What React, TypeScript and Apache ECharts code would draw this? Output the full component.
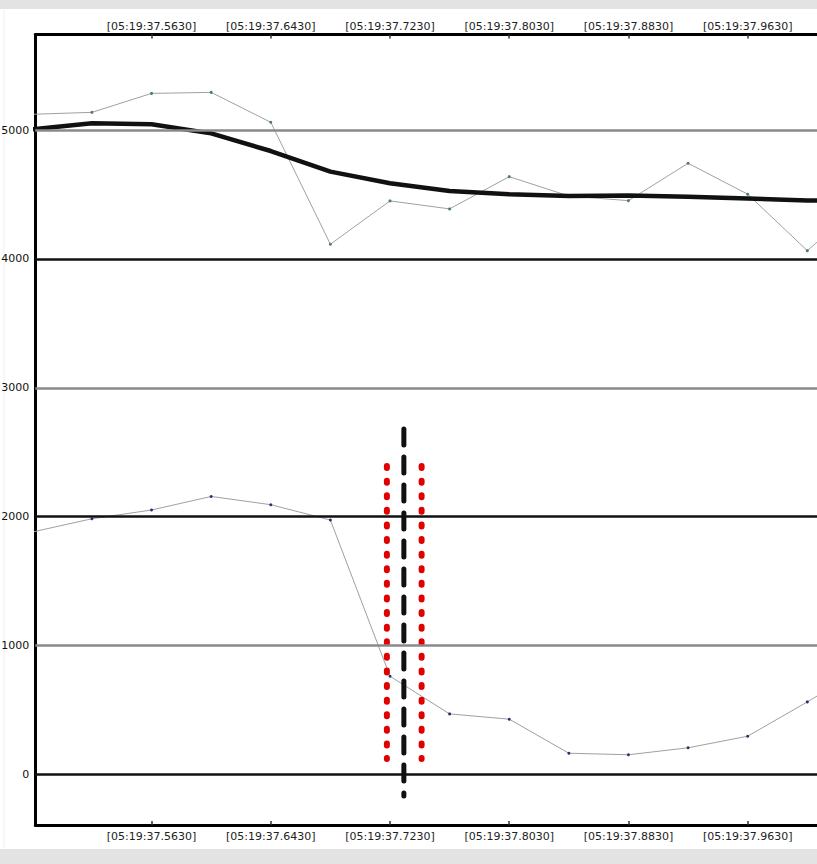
import React, { useEffect, useRef } from "react";
import * as echarts from "echarts";

// time in ms after 05:19:37.000
const times = [483, 523, 563, 603, 643, 683, 723, 763, 803, 843, 883, 923, 963, 1003, 1043];
const rawTop = [5122, 5137, 5284, 5292, 5060, 4114, 4450, 4388, 4638, 4488, 4452, 4742, 4502, 4064, 4465];
const avgTop = [5005, 5052, 5044, 4974, 4837, 4677, 4587, 4527, 4502, 4488, 4491, 4483, 4468, 4453, 4450];
const rawBottom = [1881, 1984, 2052, 2157, 2093, 1974, 762, 470, 429, 165, 153, 207, 297, 563, 840];

const xTickValues = [563, 643, 723, 803, 883, 963];
const yTickValues = [0, 1000, 2000, 3000, 4000, 5000];
const gridValues = [5000, 4000, 3000, 2000, 1000, 0];

const markerTime = 732.3;
const markerRange = [2680, -167];
const bandTimes = [720.9, 744.2];
const bandRange = [2393, 120];

const X_MIN = 485;
const X_MAX = 1009.5;
const Y_MIN = -392;
const Y_MAX = 5741;

const fmt = (v: number) => `[05:19:37.${String(Math.round(v * 10)).padStart(4, "0")}]`;

export default function App() {
  const ref = useRef<HTMLDivElement>(null);
  useEffect(() => {
    document.body.style.margin = "0";
    const chart = echarts.init(ref.current!, undefined, { renderer: "svg" });
    const font = "DejaVu Sans";
    const xAxisBase = (position: "top" | "bottom") => ({
      type: "value" as const,
      position,
      min: X_MIN,
      max: X_MAX,
      axisLine: { show: true, onZero: false, lineStyle: { color: "#000", width: 3 } },
      axisTick: { show: true, inside: true, length: 4, customValues: xTickValues, lineStyle: { color: "#333", width: 1.5 } },
      axisLabel: {
        show: true,
        customValues: xTickValues,
        formatter: fmt,
        fontFamily: font,
        fontSize: 11,
        color: "#222",
        margin: position === "top" ? 3 : 6,
      },
      splitLine: { show: false },
    });
    const pair = (xs: number[], ys: number[]) => xs.map((x, i) => [x, ys[i]]);
    chart.setOption({
      animation: false,
      backgroundColor: "#ffffff",
      graphic: [
        { type: "rect", shape: { x: 0, y: 0, width: 817, height: 9 }, style: { fill: "#e3e3e3" }, silent: true },
        { type: "rect", shape: { x: 0, y: 849, width: 817, height: 15 }, style: { fill: "#e3e3e3" }, silent: true },
        { type: "line", shape: { x1: 4, y1: 10, x2: 4, y2: 848 }, style: { stroke: "#f0f0f0", lineWidth: 1 }, silent: true },
      ],
      grid: { left: 35.3, right: 0, top: 34.5, bottom: 39, containLabel: false, outerBoundsMode: "none" },
      xAxis: [xAxisBase("bottom"), xAxisBase("top")],
      yAxis: {
        type: "value",
        min: Y_MIN,
        max: Y_MAX,
        axisLine: { show: true, lineStyle: { color: "#000", width: 3 } },
        axisTick: { show: false },
        axisLabel: {
          show: true,
          customValues: yTickValues,
          formatter: (v: number) => String(v),
          fontFamily: font,
          fontSize: 11,
          color: "#111",
          margin: 6,
        },
        splitLine: { show: false },
      },
      series: [
        {
          type: "line",
          data: [],
          z: 1,
          silent: true,
          markLine: {
            silent: true,
            symbol: "none",
            label: { show: false },
            data: gridValues.map((v, i) => ({
              yAxis: v,
              lineStyle: { type: "solid", color: i % 2 === 0 ? "#8a8a8a" : "#111", width: 2.5 },
            })),
          },
        },
        {
          type: "line",
          data: pair(times, rawTop),
          z: 2,
          symbol: "circle",
          symbolSize: 3,
          showSymbol: true,
          lineStyle: { color: "#a0a0a0", width: 1 },
          itemStyle: { color: "#4f7f55" },
        },
        {
          type: "line",
          data: pair(times, avgTop),
          z: 3,
          symbol: "none",
          lineStyle: { color: "#111", width: 4.5 },
        },
        {
          type: "line",
          data: pair(times, rawBottom),
          z: 2,
          symbol: "circle",
          symbolSize: 3,
          showSymbol: true,
          lineStyle: { color: "#a0a0a0", width: 1 },
          itemStyle: { color: "#2b2f6e" },
        },
        {
          type: "line",
          data: bandRange.map((v) => [bandTimes[0], v]),
          z: 4,
          symbol: "none",
          lineStyle: { color: "#e00000", width: 6, type: [2, 12.6], cap: "round" },
        },
        {
          type: "line",
          data: bandRange.map((v) => [bandTimes[1], v]),
          z: 4,
          symbol: "none",
          lineStyle: { color: "#e00000", width: 6, type: [2, 12.6], cap: "round" },
        },
        {
          type: "line",
          data: markerRange.map((v) => [markerTime, v]),
          z: 5,
          symbol: "none",
          lineStyle: { color: "#111", width: 5, type: [16, 12], cap: "round" },
        },
      ],
    });
    return () => chart.dispose();
  }, []);
  return <div ref={ref} style={{ position: "absolute", left: 0, top: 0, width: 817, height: 864 }} />;
}
